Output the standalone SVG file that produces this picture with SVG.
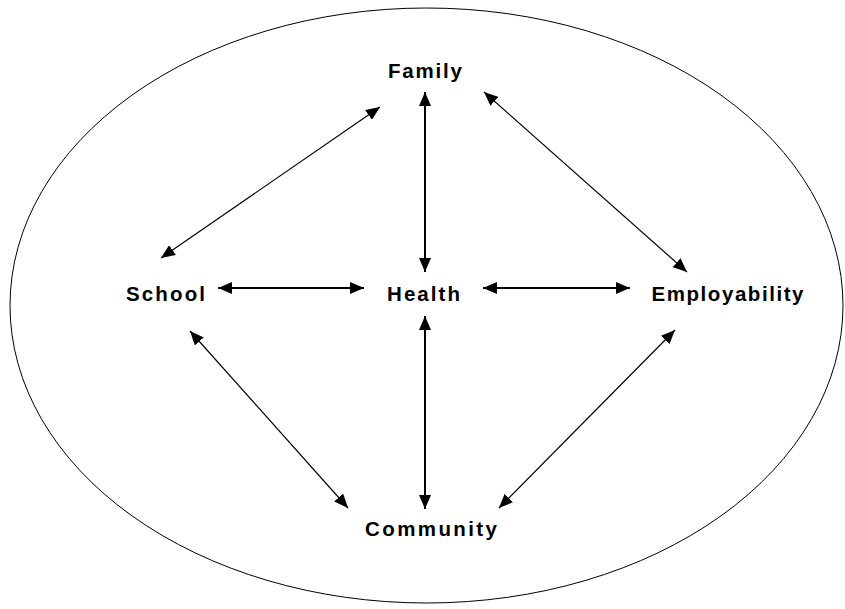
<svg xmlns="http://www.w3.org/2000/svg" width="845" height="609" viewBox="0 0 845 609">
<style>
.lbl{font-family:"Liberation Sans",Arial,sans-serif;font-weight:bold;font-size:20.5px;fill:#000;text-anchor:middle}
.ax{stroke:#000;stroke-width:2;fill:none}
.dg{stroke:#000;stroke-width:1.2;fill:none}
</style>
<defs>
<marker id="ah" viewBox="0 0 14 12" refX="14" refY="6" markerWidth="14" markerHeight="12" markerUnits="userSpaceOnUse" orient="auto-start-reverse">
<path d="M0,0 L14,6 L0,12 z" fill="#000"/>
</marker>
</defs>
<rect width="845" height="609" fill="#fff"/>
<ellipse cx="426.5" cy="305.5" rx="416.5" ry="297.5" fill="none" stroke="#000" stroke-width="1"/>
<g id="connectors">
<line class="ax" x1="425" y1="92" x2="425" y2="272" marker-start="url(#ah)" marker-end="url(#ah)"/>
<line class="ax" x1="425" y1="316" x2="425" y2="509" marker-start="url(#ah)" marker-end="url(#ah)"/>
<line class="ax" x1="218" y1="288" x2="364" y2="288" marker-start="url(#ah)" marker-end="url(#ah)"/>
<line class="ax" x1="483" y1="288" x2="630" y2="288" marker-start="url(#ah)" marker-end="url(#ah)"/>
<line class="dg" x1="161" y1="258" x2="380" y2="107" marker-start="url(#ah)" marker-end="url(#ah)"/>
<line class="dg" x1="484" y1="92" x2="687" y2="272" marker-start="url(#ah)" marker-end="url(#ah)"/>
<line class="dg" x1="190" y1="331" x2="348" y2="508" marker-start="url(#ah)" marker-end="url(#ah)"/>
<line class="dg" x1="675" y1="330" x2="499" y2="508" marker-start="url(#ah)" marker-end="url(#ah)"/>
</g>
<g id="family"><text class="lbl" x="425" y="78" textLength="74" lengthAdjust="spacing">Family</text></g>
<g id="school"><text class="lbl" x="165.5" y="301" textLength="79" lengthAdjust="spacing">School</text></g>
<g id="health"><text class="lbl" x="423.5" y="301" textLength="73" lengthAdjust="spacing">Health</text></g>
<g id="employability"><text class="lbl" x="727.5" y="301" textLength="152" lengthAdjust="spacing">Employability</text></g>
<g id="community"><text class="lbl" x="431" y="536" textLength="132" lengthAdjust="spacing">Community</text></g>
</svg>
